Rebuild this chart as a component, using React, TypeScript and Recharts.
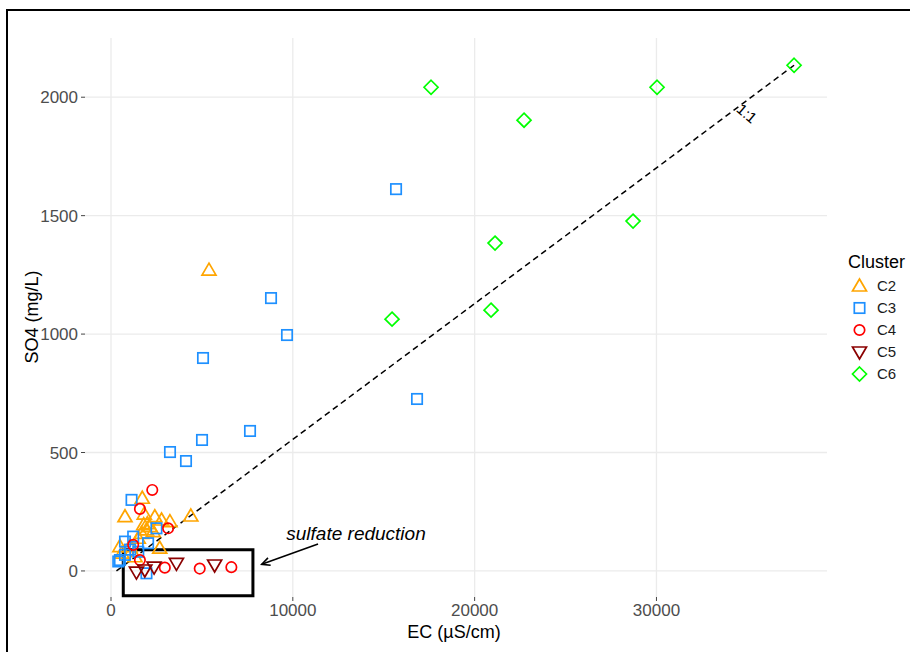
import React from 'react';
import {
  ScatterChart,
  Scatter,
  XAxis,
  YAxis,
  CartesianGrid,
  ReferenceLine,
  ReferenceArea,
  ReferenceDot,
  Legend,
  Label,
} from 'recharts';

const FONT = '"Liberation Sans", Arial, Helvetica, sans-serif';

// ---- ticks ----
const xTicks = [0, 10000, 20000, 30000];
const yTicks = [0, 500, 1000, 1500, 2000];

// ---- series (EC µS/cm, SO4 mg/L) ----
const C2 = [
  { ec: 5390, so4: 1270 },
  { ec: 1720, so4: 307 },
  { ec: 770, so4: 229 },
  { ec: 1830, so4: 240 },
  { ec: 2410, so4: 229 },
  { ec: 2780, so4: 215 },
  { ec: 3240, so4: 208 },
  { ec: 4390, so4: 232 },
  { ec: 1950, so4: 173 },
  { ec: 2140, so4: 187 },
  { ec: 2320, so4: 166 },
  { ec: 1680, so4: 159 },
  { ec: 2000, so4: 200 },
  { ec: 1800, so4: 195 },
  { ec: 1500, so4: 138 },
  { ec: 1040, so4: 103 },
  { ec: 490, so4: 103 },
  { ec: 2680, so4: 96 },
  { ec: 1320, so4: 60 },
  { ec: 600, so4: 75 },
];

const C3 = [
  { ec: 15677, so4: 1612 },
  { ec: 8801, so4: 1152 },
  { ec: 9681, so4: 996 },
  { ec: 5061, so4: 899 },
  { ec: 16832, so4: 726 },
  { ec: 7646, so4: 591 },
  { ec: 5006, so4: 553 },
  { ec: 3245, so4: 502 },
  { ec: 4125, so4: 464 },
  { ec: 1130, so4: 300 },
  { ec: 2500, so4: 180 },
  { ec: 1220, so4: 145 },
  { ec: 770, so4: 124 },
  { ec: 2040, so4: 117 },
  { ec: 490, so4: 46 },
  { ec: 770, so4: 68 },
  { ec: 1500, so4: 81 },
  { ec: 1950, so4: -10 },
  { ec: 400, so4: 40 },
  { ec: 1050, so4: 90 },
];

const C4 = [
  { ec: 2270, so4: 342 },
  { ec: 1590, so4: 262 },
  { ec: 3140, so4: 180 },
  { ec: 1220, so4: 110 },
  { ec: 1590, so4: 46 },
  { ec: 2960, so4: 14 },
  { ec: 4880, so4: 10 },
  { ec: 6620, so4: 16 },
];

const C5 = [
  { ec: 1400, so4: -5 },
  { ec: 1860, so4: 4 },
  { ec: 2370, so4: 16 },
  { ec: 3600, so4: 32 },
  { ec: 5700, so4: 25 },
];

const C6 = [
  { ec: 17602, so4: 2042 },
  { ec: 22717, so4: 1903 },
  { ec: 30033, so4: 2042 },
  { ec: 37569, so4: 2135 },
  { ec: 21122, so4: 1384 },
  { ec: 28713, so4: 1477 },
  { ec: 15457, so4: 1063 },
  { ec: 20902, so4: 1101 },
];

// ---- annotations ----
const oneToOneLine = [
  { ec: 300, so4: 0 },
  { ec: 37569, so4: 2135 },
];
const boxEC = [675, 7806];
const boxSO4 = [-105, 89];
const arrowFrom = { ec: 11386, so4: 114 };
const arrowTo = { ec: 8289, so4: 28 };
const noteLabel = { ec: 13476, so4: 156, text: 'sulfate reduction' };
const ratioLabel = { ec: 34983, so4: 1932, text: '1:1' };

const clusters = [
  { name: 'C2', color: '#FFA500', kind: 'triUp', data: C2 },
  { name: 'C3', color: '#1E90FF', kind: 'square', data: C3 },
  { name: 'C4', color: '#FF0000', kind: 'circle', data: C4 },
  { name: 'C5', color: '#8B0000', kind: 'triDown', data: C5 },
  { name: 'C6', color: '#00FF00', kind: 'diamond', data: C6 },
];

function Marker({ kind, color, cx, cy }: { kind: string; color: string; cx: number; cy: number }) {
  const sw = 1.7;
  const common = { fill: 'none', stroke: color, strokeWidth: sw };
  if (cx == null || cy == null || isNaN(cx) || isNaN(cy)) return null;
  switch (kind) {
    case 'triUp':
      return <polygon points={`${cx},${cy - 7} ${cx - 7},${cy + 5} ${cx + 7},${cy + 5}`} {...common} />;
    case 'triDown':
      return <polygon points={`${cx},${cy + 7} ${cx - 7},${cy - 5} ${cx + 7},${cy - 5}`} {...common} />;
    case 'square':
      return <rect x={cx - 5.2} y={cy - 5.2} width={10.4} height={10.4} {...common} />;
    case 'circle':
      return <circle cx={cx} cy={cy} r={5.2} {...common} />;
    case 'diamond':
      return <polygon points={`${cx},${cy - 7} ${cx + 7},${cy} ${cx},${cy + 7} ${cx - 7},${cy}`} {...common} />;
    default:
      return null;
  }
}

function ArrowShape(props: any) {
  const { x1, y1, x2, y2 } = props;
  if ([x1, y1, x2, y2].some((v) => v == null || isNaN(v))) return null;
  const ang = Math.atan2(y2 - y1, x2 - x1);
  const len = 9;
  const spread = (26 * Math.PI) / 180;
  const ax = x2 - len * Math.cos(ang - spread);
  const ay = y2 - len * Math.sin(ang - spread);
  const bx = x2 - len * Math.cos(ang + spread);
  const by = y2 - len * Math.sin(ang + spread);
  return (
    <g>
      <line x1={x1} y1={y1} x2={x2} y2={y2} stroke="#000" strokeWidth={1.6} />
      <polyline points={`${ax},${ay} ${x2},${y2} ${bx},${by}`} fill="none" stroke="#000" strokeWidth={1.6} />
    </g>
  );
}

function renderLegend() {
  return (
    <div style={{ fontFamily: FONT, color: '#1a1a1a' }}>
      <div style={{ fontSize: 18, lineHeight: '22px', height: 22, paddingLeft: 2, color: '#000' }}>Cluster</div>
      <div style={{ height: 2 }} />
      {clusters.map((c) => (
        <div key={c.name} style={{ display: 'flex', alignItems: 'center', height: 22 }}>
          <svg width={27} height={22} style={{ display: 'block' }}>
            <Marker kind={c.kind} color={c.color} cx={13.5} cy={11} />
          </svg>
          <span style={{ fontSize: 15, marginLeft: 4, lineHeight: '22px' }}>{c.name}</span>
        </div>
      ))}
    </div>
  );
}

export default function App() {
  return (
    <div style={{ position: 'absolute', left: 0, top: 0, width: 910, height: 652, background: '#fff', overflow: 'hidden' }}>
      <div
        style={{
          position: 'absolute',
          left: 6,
          top: 9,
          width: 920,
          height: 660,
          borderLeft: '2px solid #000',
          borderTop: '2px solid #000',
          pointerEvents: 'none',
        }}
      />
      <ScatterChart width={910} height={652} margin={{ top: 38, right: 83, bottom: 0, left: 0 }}>
        <CartesianGrid stroke="#EBEBEB" strokeWidth={1.3} syncWithTicks />
        <XAxis
          type="number"
          dataKey="ec"
          domain={[-1430, 39380]}
          ticks={xTicks}
          allowDataOverflow
          height={55}
          axisLine={false}
          tickLine={{ stroke: '#444' }}
          tickSize={4}
          tickMargin={3}
          tick={{ fill: '#4D4D4D', fontSize: 17, fontFamily: FONT }}
        >
          <Label
            content={() => (
              <text x={454} y={638} textAnchor="middle" fontSize={18} fontFamily={FONT} fill="#000">
                EC (µS/cm)
              </text>
            )}
          />
        </XAxis>
        <YAxis
          type="number"
          dataKey="so4"
          domain={[-110, 2250]}
          ticks={yTicks}
          allowDataOverflow
          width={85}
          axisLine={false}
          tickLine={{ stroke: '#444' }}
          tickSize={4}
          tickMargin={3}
          tick={{ fill: '#4D4D4D', fontSize: 17, fontFamily: FONT }}
        >
          <Label
            content={() => (
              <text
                x={38}
                y={317}
                textAnchor="middle"
                fontSize={18}
                fontFamily={FONT}
                fill="#000"
                transform="rotate(-90 38 317)"
              >
                SO4 (mg/L)
              </text>
            )}
          />
        </YAxis>
        <Legend
          layout="vertical"
          align="center"
          verticalAlign="middle"
          content={renderLegend}
          wrapperStyle={{ left: 846, top: 251, width: 64, height: 140 }}
        />
        {clusters.map((c) => (
          <Scatter
            key={c.name}
            name={c.name}
            data={c.data}
            isAnimationActive={false}
            shape={(p: any) => <Marker kind={c.kind} color={c.color} cx={p.cx} cy={p.cy} />}
          />
        ))}
        <ReferenceLine
          segment={[
            { x: oneToOneLine[0].ec, y: oneToOneLine[0].so4 },
            { x: oneToOneLine[1].ec, y: oneToOneLine[1].so4 },
          ]}
          stroke="#000"
          strokeWidth={1.5}
          strokeDasharray="6 4"
          ifOverflow="visible"
        />
        <ReferenceArea
          x1={boxEC[0]}
          x2={boxEC[1]}
          y1={boxSO4[0]}
          y2={boxSO4[1]}
          fill="none"
          fillOpacity={0}
          stroke="#000"
          strokeWidth={3}
          ifOverflow="visible"
        />
        <ReferenceLine
          segment={[
            { x: arrowFrom.ec, y: arrowFrom.so4 },
            { x: arrowTo.ec, y: arrowTo.so4 },
          ]}
          ifOverflow="visible"
          shape={(p: any) => <ArrowShape {...p} />}
        />
        <ReferenceDot
          x={noteLabel.ec}
          y={noteLabel.so4}
          r={0}
          ifOverflow="visible"
          shape={(p: any) => (
            <text
              x={p.cx}
              y={p.cy}
              textAnchor="middle"
              dominantBaseline="central"
              fontSize={19}
              fontStyle="italic"
              fontFamily={FONT}
              fill="#000"
            >
              {noteLabel.text}
            </text>
          )}
        />
        <ReferenceDot
          x={ratioLabel.ec}
          y={ratioLabel.so4}
          r={0}
          ifOverflow="visible"
          shape={(p: any) => (
            <text
              x={p.cx}
              y={p.cy}
              textAnchor="middle"
              dominantBaseline="central"
              fontSize={15}
              fontFamily={FONT}
              fill="#000"
              transform={`rotate(40 ${p.cx} ${p.cy})`}
            >
              {ratioLabel.text}
            </text>
          )}
        />
      </ScatterChart>
    </div>
  );
}
